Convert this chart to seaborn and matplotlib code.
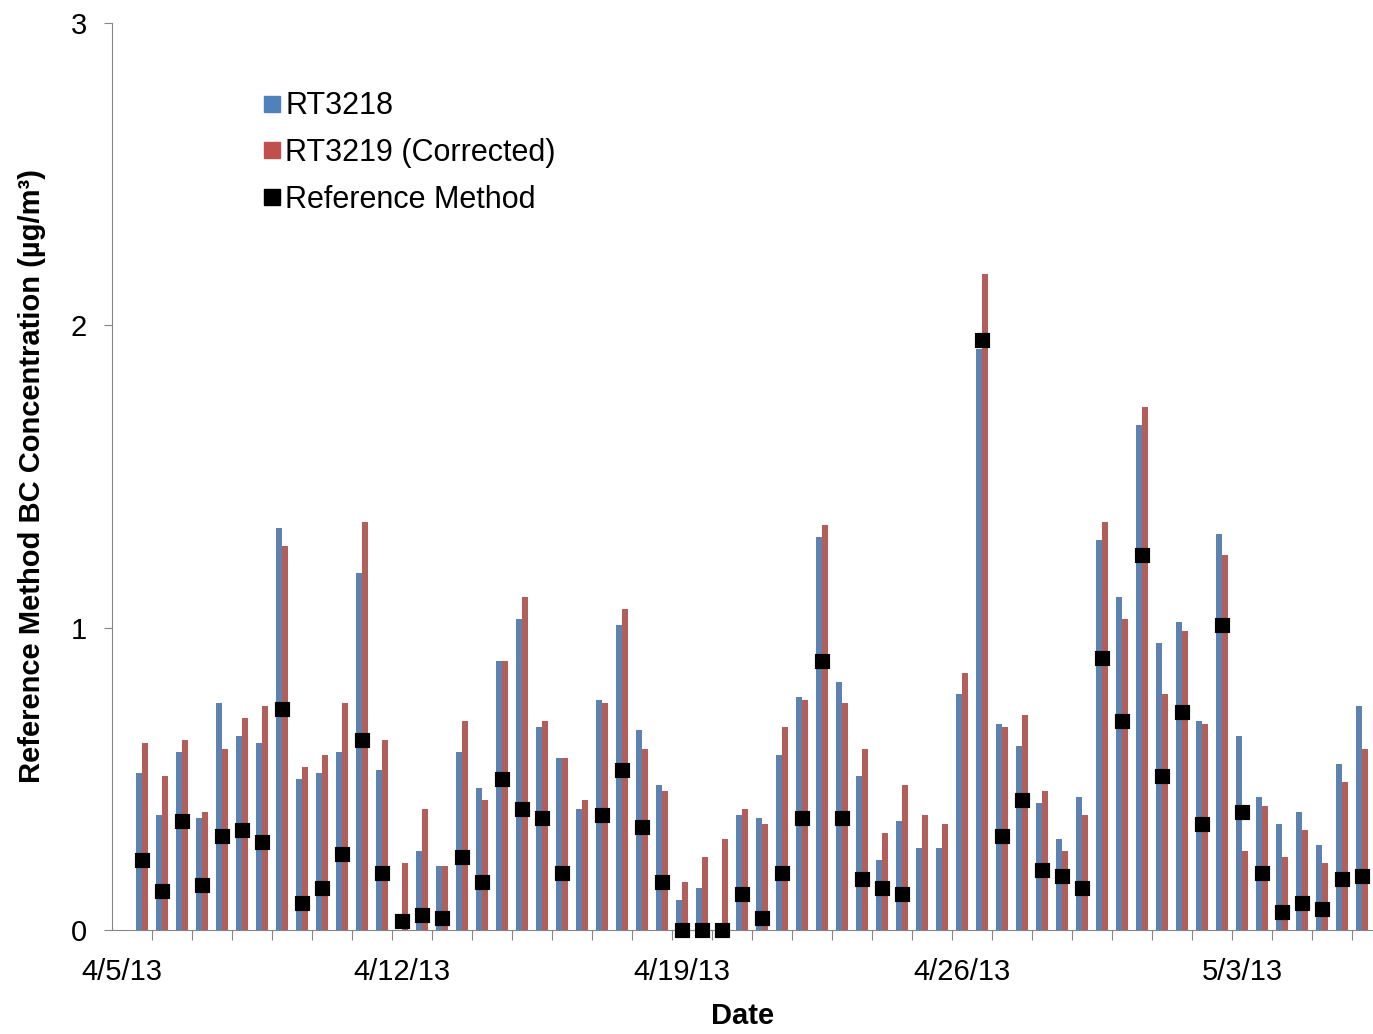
import matplotlib
matplotlib.use("Agg")
import matplotlib.pyplot as plt
import seaborn as sns
import pandas as pd
import numpy as np
from matplotlib.lines import Line2D

# half-day samples starting 4/5/13
rt3218 = [0.52, 0.38, 0.59, 0.37, 0.75, 0.64, 0.62, 1.33, 0.50, 0.52, 0.59, 1.18, 0.53, 0.00, 0.26, 0.21,
          0.59, 0.47, 0.89, 1.03, 0.67, 0.57, 0.40, 0.76, 1.01, 0.66, 0.48, 0.10, 0.14, 0.00, 0.38, 0.37,
          0.58, 0.77, 1.30, 0.82, 0.51, 0.23, 0.36, 0.27, 0.27, 0.78, 1.92, 0.68, 0.61, 0.42, 0.30, 0.44,
          1.29, 1.10, 1.67, 0.95, 1.02, 0.69, 1.31, 0.64, 0.44, 0.35, 0.39, 0.28, 0.55, 0.74]
rt3219 = [0.62, 0.51, 0.63, 0.39, 0.60, 0.70, 0.74, 1.27, 0.54, 0.58, 0.75, 1.35, 0.63, 0.22, 0.40, 0.21,
          0.69, 0.43, 0.89, 1.10, 0.69, 0.57, 0.43, 0.75, 1.06, 0.60, 0.46, 0.16, 0.24, 0.30, 0.40, 0.35,
          0.67, 0.76, 1.34, 0.75, 0.60, 0.32, 0.48, 0.38, 0.35, 0.85, 2.17, 0.67, 0.71, 0.46, 0.26, 0.38,
          1.35, 1.03, 1.73, 0.78, 0.99, 0.68, 1.24, 0.26, 0.41, 0.24, 0.33, 0.22, 0.49, 0.60]
reference = [0.23, 0.13, 0.36, 0.15, 0.31, 0.33, 0.29, 0.73, 0.09, 0.14, 0.25, 0.63, 0.19, 0.03, 0.05, 0.04,
             0.24, 0.16, 0.50, 0.40, 0.37, 0.19, np.nan, 0.38, 0.53, 0.34, 0.16, 0.0, 0.0, 0.0, 0.12, 0.04,
             0.19, 0.37, 0.89, 0.37, 0.17, 0.14, 0.12, np.nan, np.nan, np.nan, 1.95, 0.31, 0.43, 0.20, 0.18, 0.14,
             0.90, 0.69, 1.24, 0.51, 0.72, 0.35, 1.01, 0.39, 0.19, 0.06, 0.09, 0.07, 0.17, 0.18, 0.23]
date_labels = ["4/5/13", "4/12/13", "4/19/13", "4/26/13", "5/3/13"]

plt.rcParams["font.family"] = ["Liberation Sans", "DejaVu Sans"]

n = len(rt3218)
bars = pd.DataFrame({
    "idx": list(range(n)) * 2,
    "val": rt3218 + rt3219,
    "series": ["RT3218"] * n + ["RT3219 (Corrected)"] * n,
})
refdf = pd.DataFrame({"idx": range(len(reference)), "val": reference}).dropna()

blue, red = "#4F81BD", "#C0504D"
fig = plt.figure(figsize=(13.73, 10.34), dpi=100)
ax = fig.add_axes([0.0816, 0.1006, 0.9184, 0.8772])
sns.barplot(data=bars, x="idx", y="val", hue="series", palette=[blue, red],
            width=0.6, dodge=True, ax=ax, legend=False, native_scale=True, linewidth=0)
sns.scatterplot(data=refdf, x="idx", y="val", marker="s", s=110, color="black",
                edgecolor="black", ax=ax, zorder=5, clip_on=False, legend=False)

ax.set_xlim(-1.5, 61.55)
ax.set_ylim(0, 3)
ax.set_yticks([0, 1, 2, 3])
ax.tick_params(axis="y", labelsize=21, length=6, color="#868686", pad=12)
ax.set_xticks(np.arange(0.5, 62, 2))
ax.set_xticklabels([])
ax.tick_params(axis="x", length=7, color="#868686")
ax.set_xticks(np.arange(-1, 62, 14), minor=True)
ax.set_xticklabels(date_labels, minor=True, fontsize=21)
ax.tick_params(axis="x", which="minor", length=0, pad=20)
for s in ["top", "right"]:
    ax.spines[s].set_visible(False)
for s in ["left", "bottom"]:
    ax.spines[s].set_color("#868686")
ax.set_xlabel("Date", fontsize=21, fontweight="bold", labelpad=12)
ax.set_ylabel("Reference Method BC Concentration (\u00b5g/m\u00b3)", fontsize=21,
              fontweight="bold", labelpad=18)

handles = [Line2D([], [], marker="s", ls="", color=blue, markersize=11),
           Line2D([], [], marker="s", ls="", color=red, markersize=11),
           Line2D([], [], marker="s", ls="", color="black", markersize=11)]
ax.legend(handles, ["RT3218", "RT3219 (Corrected)", "Reference Method"], loc="upper left",
          bbox_to_anchor=(0.095, 0.955), frameon=False, fontsize=22, handletextpad=0.05,
          handlelength=0.8, labelspacing=0.55)
fig.savefig("out.png", dpi=100)
